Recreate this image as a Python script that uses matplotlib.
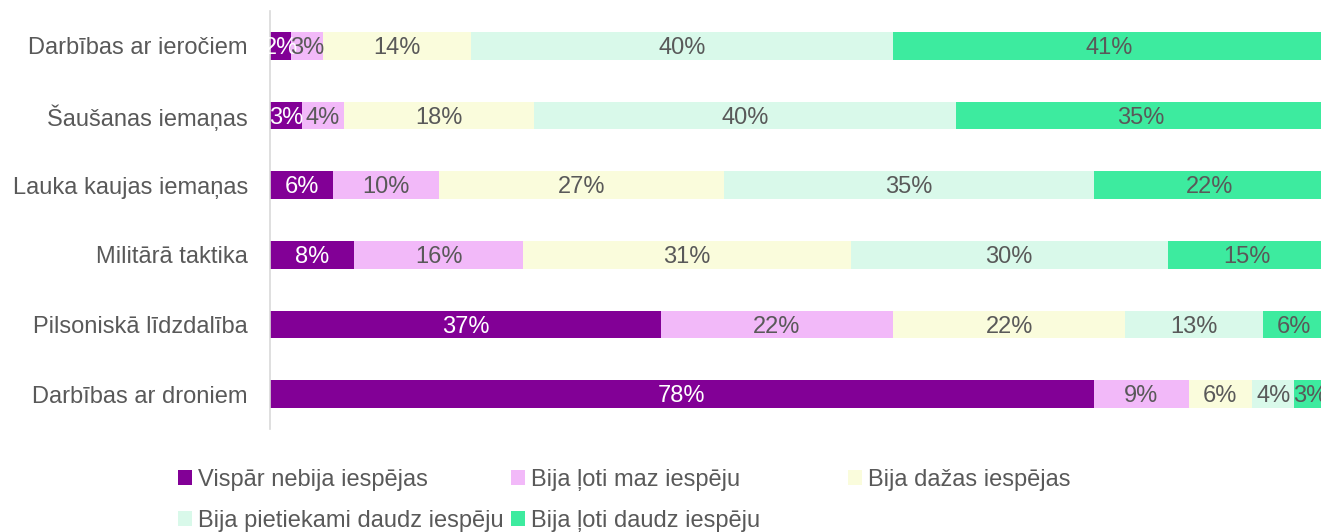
import matplotlib
matplotlib.use("Agg")
import matplotlib.pyplot as plt
from matplotlib.patches import Patch
import numpy as np

plt.rcParams['font.family'] = ['Liberation Sans', 'DejaVu Sans']

categories = ["Darbības ar ieročiem", "Šaušanas iemaņas", "Lauka kaujas iemaņas",
              "Militārā taktika", "Pilsoniskā līdzdalība", "Darbības ar droniem"]
series_names = ["Vispār nebija iespējas", "Bija ļoti maz iespēju", "Bija dažas iespējas",
                "Bija pietiekami daudz iespēju", "Bija ļoti daudz iespēju"]
values = [
    [2, 3, 6, 8, 37, 78],
    [3, 4, 10, 16, 22, 9],
    [14, 18, 27, 31, 22, 6],
    [40, 40, 35, 30, 13, 4],
    [41, 35, 22, 15, 6, 3],
]
colors = ["#820096", "#F2B9F9", "#FAFCDC", "#D9F9EA", "#3DEB9F"]
label_colors = ["white", "#595959", "#595959", "#595959", "#595959"]

FS = 17
W, H = 1321, 532
fig = plt.figure(figsize=(W / 100, H / 100), dpi=100)
ax = fig.add_axes([270 / W, 1 - 429 / H, (1326 - 270) / W, (429 - 11) / H])

y = np.arange(len(categories))
left = np.zeros(len(categories))
for i, (name, vals) in enumerate(zip(series_names, values)):
    vals = np.array(vals, dtype=float)
    bars = ax.barh(y, vals, left=left, height=0.4, color=colors[i], label=name)
    for b, v in zip(bars, vals):
        ax.text(b.get_x() + b.get_width() / 2, b.get_y() + b.get_height() / 2 + 0.03,
                f"{int(v)}%", ha="center", va="center", color=label_colors[i],
                fontsize=FS)
    left += vals

ax.set_xlim(0, 100)
ax.set_ylim(len(categories) - 0.5, -0.5)
ax.set_yticks(y)
ax.set_yticklabels(categories, fontsize=FS, color="#595959")
ax.tick_params(axis="y", length=0, pad=16)
ax.set_xticks([])
for s in ["top", "right", "bottom"]:
    ax.spines[s].set_visible(False)
ax.spines["left"].set_color("#D9D9D9")
ax.spines["left"].set_linewidth(1.2)

handles = [Patch(facecolor=c, edgecolor="none") for c in colors]
cols = [[0, 3], [1, 4], [2]]
xs = [178, 511, 848]
for col, x0 in zip(cols, xs):
    leg = fig.legend([handles[k] for k in col], [series_names[k] for k in col],
                     loc="upper left", bbox_to_anchor=(x0 / W, 1 - 469 / H),
                     frameon=False, fontsize=FS, handlelength=0.6, handleheight=0.6,
                     handletextpad=0.25, borderpad=0, borderaxespad=0,
                     labelspacing=0.8, labelcolor="#595959")

fig.savefig("out.png", dpi=100)
